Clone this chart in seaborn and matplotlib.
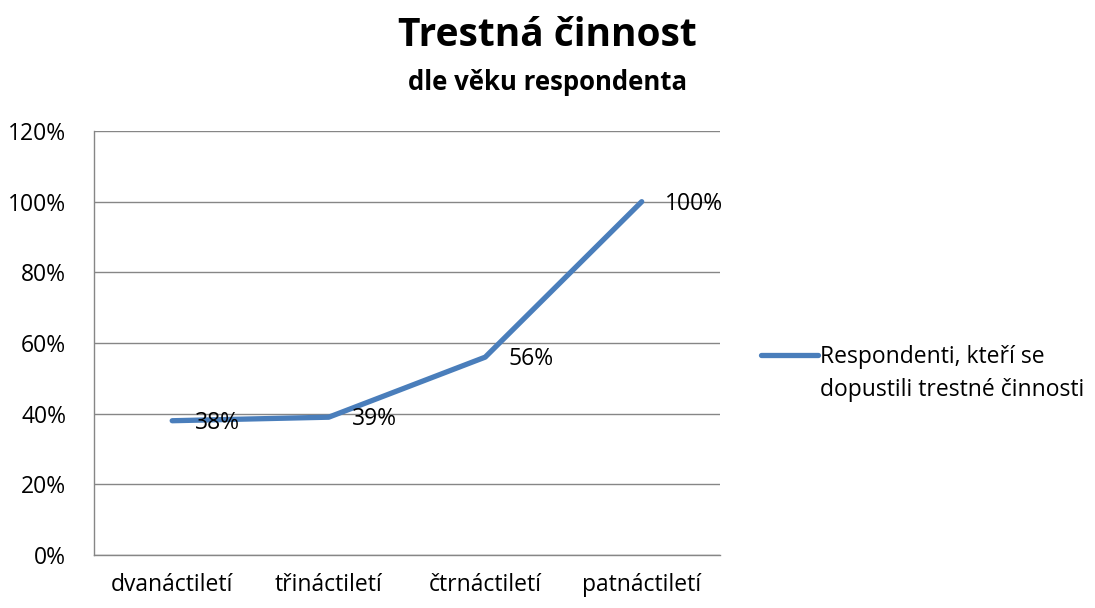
import pandas as pd
import seaborn as sns
import matplotlib.pyplot as plt
from matplotlib.ticker import PercentFormatter

# Data
categories = ['dvanáctiletí', 'třináctiletí', 'čtrnáctiletí', 'patnáctiletí']
values = [0.38, 0.39, 0.56, 1.00]
series_name = ['Respondenti, kteří se', 'dopustili trestné činnosti']

df = pd.DataFrame({'vek': categories, 'podil': values})
df['pos'] = [i + 0.5 for i in range(len(categories))]

sns.set_style('white')
plt.rcParams['font.family'] = ['Open Sans', 'DejaVu Sans']
plt.rcParams['text.color'] = 'black'
plt.rcParams['xtick.color'] = 'black'
plt.rcParams['ytick.color'] = 'black'

W, H = 1095, 608
fig = plt.figure(figsize=(W / 100, H / 100), dpi=100)
ax = fig.add_axes([0.0858, 0.0872, 0.5717, 0.6973])

line_color = '#4A7EBB'
sns.lineplot(data=df, x='pos', y='podil', ax=ax, color=line_color, linewidth=3.8,
             label=series_name[0], solid_capstyle='round')

# data labels to the right of each point
for x, y in zip(df['pos'], df['podil']):
    ax.annotate(f'{y:.0%}', (x, y), xytext=(23, -2), textcoords='offset pixels',
                ha='left', va='center', fontsize=16.5)

ax.set_xlim(0, 4)
ax.set_ylim(0, 1.2)
ax.set_yticks([0, 0.2, 0.4, 0.6, 0.8, 1.0, 1.2])
ax.yaxis.set_major_formatter(PercentFormatter(1.0, decimals=0))
ax.set_xticks(df['pos'])
ax.set_xticklabels(categories)
ax.tick_params(axis='both', labelsize=16.5, length=0)
ax.tick_params(axis='x', pad=13)
ax.tick_params(axis='y', pad=20)
ax.set_xlabel('')
ax.set_ylabel('')

ax.grid(axis='y', color='#868686', linewidth=1)
ax.set_axisbelow(True)
for side in ['top', 'right']:
    ax.spines[side].set_visible(False)
for side in ['left', 'bottom']:
    ax.spines[side].set_color('#868686')
    ax.spines[side].set_linewidth(1)

leg = ax.legend(loc='center left', bbox_to_anchor=(754 / W, (H - 357) / H),
                bbox_transform=fig.transFigure,
                frameon=False, fontsize=16.5, handlelength=2.5, handletextpad=0.1,
                borderaxespad=0, borderpad=0.3)

# second line of the legend label, aligned with the first
fig.canvas.draw()
bb = leg.get_texts()[0].get_window_extent()
fig.text(bb.x0 / fig.bbox.width, (H - 390) / H, series_name[1],
         ha='left', va='center', fontsize=16.5)

fig.text(0.5, 0.942, 'Trestná činnost', ha='center', va='center', fontsize=28, fontweight='bold')
fig.text(0.5, 0.865, 'dle věku respondenta', ha='center', va='center', fontsize=18.5, fontweight='bold')

fig.savefig('out.png', dpi=100)
